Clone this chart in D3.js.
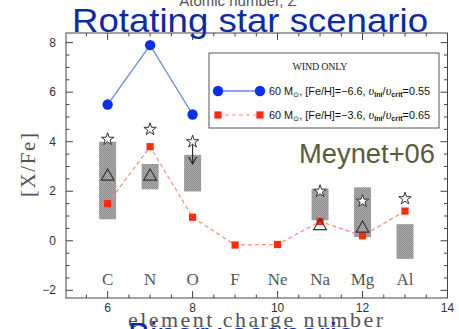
<!DOCTYPE html>
<html><head><meta charset="utf-8">
<script src="https://cdn.jsdelivr.net/npm/d3@7"></script>
<style>html,body{margin:0;padding:0;background:#fff;overflow:hidden}</style>
</head><body>
<svg id="c" width="459" height="329"></svg>
<script>
const elements = ["C","N","O","F","Ne","Na","Mg","Al"];
const charges = [6,7,8,9,10,11,12,13];
const blueZ = [6,7,8];
const blueVals = [5.5,7.9,5.1];
const redVals = [1.5,3.8,0.95,-0.17,-0.15,0.78,0.2,1.2];
const obsZ = [6,7,8,11,12,13];
const obsLow = [0.87,2.08,1.99,0.83,0.15,-0.73];
const obsHigh = [4.0,3.1,3.47,2.1,2.16,0.67];
const triZ = [6,7,11,12];
const triVals = [2.6,2.6,0.6,0.5];
const starZ = [6,7,8,11,12,13];
const starVals = [4.1,4.5,4.0,2.0,1.6,1.7];
const limitZ = [8];
const limitFrom = [4.0];
const limitTo = [3.1];
const xTicks = [6,8,10,12,14];
const yTicks = [-2,0,2,4,6,8];

const svg = d3.select("#c");
const L=66,R=447.5,T=33,B=298;
const x = d3.scaleLinear().domain([5.02,14]).range([L,R]);
const y = d3.scaleLinear().domain([-2.31,8.39]).range([B,T]);
const axisCol="#444";

// pattern for gray boxes
const defs = svg.append("defs");
const pat = defs.append("pattern").attr("id","hatch").attr("width",2).attr("height",2).attr("patternUnits","userSpaceOnUse");
pat.append("rect").attr("width",2).attr("height",2).attr("fill","#ababab");
pat.append("rect").attr("width",1).attr("height",1).attr("fill","#8e8e8e");
pat.append("rect").attr("x",1).attr("y",1).attr("width",1).attr("height",1).attr("fill","#8e8e8e");

// titles
svg.append("text").attr("x",238).attr("y",6).attr("text-anchor","middle")
  .attr("font-family","Liberation Sans, Arial, sans-serif").attr("font-size",15).attr("fill","#555").text("Atomic number, Z");

// frame
svg.append("rect").attr("x",L).attr("y",T).attr("width",R-L).attr("height",B-T).attr("fill","none").attr("stroke",axisCol).attr("stroke-width",1);

// ticks
const minorX = d3.range(5.5,14.01,0.5);
const minorY = d3.range(-2,8.01,0.5);
const g = svg.append("g").attr("stroke",axisCol).attr("stroke-width",1);
minorX.forEach(v=>{
  const major = xTicks.includes(v);
  const len = major?7:3.5;
  g.append("line").attr("x1",x(v)).attr("x2",x(v)).attr("y1",B).attr("y2",B-len);
  g.append("line").attr("x1",x(v)).attr("x2",x(v)).attr("y1",T).attr("y2",T+len);
});
minorY.forEach(v=>{
  const major = yTicks.includes(v);
  const len = major?7:3.5;
  g.append("line").attr("y1",y(v)).attr("y2",y(v)).attr("x1",L).attr("x2",L+len);
  g.append("line").attr("y1",y(v)).attr("y2",y(v)).attr("x1",R).attr("x2",R-len);
});

// tick labels
svg.append("g").selectAll("text").data(xTicks).join("text")
  .attr("x",d=>x(d)).attr("y",312).attr("text-anchor","middle")
  .attr("font-family","Liberation Sans, Arial, sans-serif").attr("font-size",12).attr("fill","#333").text(d=>d);
svg.append("g").selectAll("text").data(yTicks).join("text")
  .attr("x",56).attr("y",d=>y(d)+4).attr("text-anchor","end")
  .attr("font-family","Liberation Sans, Arial, sans-serif").attr("font-size",12).attr("fill","#333").text(d=>d<0?"\u2212"+Math.abs(d):d);

// axis labels
svg.append("text").attr("transform","translate(35,165) rotate(-90)").attr("text-anchor","middle")
  .attr("font-family","Liberation Serif, Times New Roman, serif").attr("font-size",21).attr("fill","#555")
  .attr("textLength",64).attr("lengthAdjust","spacing").text("[X/Fe]");
svg.append("text").attr("x",128).attr("y",327).attr("text-anchor","start")
  .attr("font-family","Liberation Serif, Times New Roman, serif").attr("font-size",22).attr("fill","#555")
  .attr("textLength",255).attr("lengthAdjust","spacing").text("element charge number");

// element labels
svg.append("g").selectAll("text").data(elements).join("text")
  .attr("x",(d,i)=>x(charges[i])).attr("y",285).attr("text-anchor","middle")
  .attr("font-family","Liberation Serif, Times New Roman, serif").attr("font-size",17).attr("fill","#555").text(d=>d);

// observation boxes
svg.append("g").selectAll("rect").data(obsZ).join("rect")
  .attr("x",d=>x(d-0.2)).attr("width",x(0.2)-x(-0.2))
  .attr("y",(d,i)=>y(obsHigh[i])).attr("height",(d,i)=>y(obsLow[i])-y(obsHigh[i]))
  .attr("fill","url(#hatch)");

// blue line
const blueLine = d3.line().x((d,i)=>x(blueZ[i])).y(d=>y(d));
svg.append("path").datum(blueVals).attr("d",blueLine).attr("fill","none").attr("stroke","#6a84f0").attr("stroke-width",1.3);
svg.append("g").selectAll("circle").data(blueVals).join("circle")
  .attr("cx",(d,i)=>x(blueZ[i])).attr("cy",d=>y(d)).attr("r",5.2).attr("fill","#0a2ff0");

// red line
const redLine = d3.line().x((d,i)=>x(charges[i])).y(d=>y(d));
svg.append("path").datum(redVals).attr("d",redLine).attr("fill","none").attr("stroke","#ff8a78").attr("stroke-width",1.2).attr("stroke-dasharray","4,3");
svg.append("g").selectAll("rect").data(redVals).join("rect")
  .attr("x",(d,i)=>x(charges[i])-3.6).attr("y",d=>y(d)-3.6).attr("width",7.2).attr("height",7.2).attr("fill","#ff2a12");

// triangles
svg.append("g").selectAll("path").data(triVals).join("path")
  .attr("transform",(d,i)=>`translate(${x(triZ[i])},${y(d)})`)
  .attr("d",d3.symbol().type(d3.symbolTriangle).size(72)).attr("fill","none").attr("stroke","#333").attr("stroke-width",1.1);

// upper limit arrow
limitZ.forEach((z,i)=>{
  const xx=x(z), y1=y(limitFrom[i]), y2=y(limitTo[i]);
  svg.append("line").attr("x1",xx).attr("x2",xx).attr("y1",y1).attr("y2",y2).attr("stroke","#222").attr("stroke-width",1.1);
  svg.append("path").attr("d",`M${xx-4},${y2-7}L${xx},${y2}L${xx+4},${y2-7}`).attr("fill","none").attr("stroke","#222").attr("stroke-width",1.1);
});

// stars
svg.append("g").selectAll("path").data(starVals).join("path")
  .attr("transform",(d,i)=>`translate(${x(starZ[i])},${y(d)})`)
  .attr("d",d3.symbol().type(d3.symbolStar).size(48)).attr("fill","#fff").attr("stroke","#333").attr("stroke-width",1);

// legend
const lg = svg.append("g");
lg.append("rect").attr("x",209).attr("y",53).attr("width",230).attr("height",75).attr("fill","#fff").attr("stroke","#555").attr("stroke-width",1);
lg.append("text").attr("x",320).attr("y",70).attr("text-anchor","middle").attr("font-family","Liberation Serif, Times New Roman, serif")
  .attr("font-size",10).attr("fill","#222").attr("textLength",55).attr("lengthAdjust","spacing").text("WIND ONLY");
lg.append("line").attr("x1",218).attr("x2",260).attr("y1",91).attr("y2",91).attr("stroke","#6a84f0").attr("stroke-width",1.3);
[218,260].forEach(cx=>lg.append("circle").attr("cx",cx).attr("cy",91).attr("r",5.2).attr("fill","#0a2ff0"));
lg.append("line").attr("x1",218).attr("x2",260).attr("y1",115).attr("y2",115).attr("stroke","#ff8a78").attr("stroke-width",1.2).attr("stroke-dasharray","4,3");
[218,260].forEach(cx=>lg.append("rect").attr("x",cx-3.6).attr("y",115-3.6).attr("width",7.2).attr("height",7.2).attr("fill","#ff2a12"));
function legText(yy, feh, ratio){
  const t = lg.append("text").attr("x",269).attr("y",yy+3.5).attr("font-family","Liberation Sans, Arial, sans-serif").attr("font-size",10.5).attr("fill","#111")
    .attr("textLength",161).attr("lengthAdjust","spacingAndGlyphs");
  t.append("tspan").text("60 M");
  t.append("tspan").attr("font-size",7).attr("dy",2).text("\u2299");
  t.append("tspan").attr("dy",-2).text(", [Fe/H]=\u2212"+feh+", ");
  t.append("tspan").attr("font-style","italic").attr("font-family","Liberation Serif, serif").attr("font-size",12).text("\u03c5");
  t.append("tspan").attr("font-size",7).attr("dy",2).attr("font-weight","bold").text("ini");
  t.append("tspan").attr("dy",-2).text("/");
  t.append("tspan").attr("font-style","italic").attr("font-family","Liberation Serif, serif").attr("font-size",12).text("\u03c5");
  t.append("tspan").attr("font-size",7).attr("dy",2).attr("font-weight","bold").text("crit");
  t.append("tspan").attr("dy",-2).text("="+ratio);
}
legText(91,"6.6","0.55");
legText(115,"3.6","0.65");

// annotations
svg.append("text").attr("x",250).attr("y",32).attr("text-anchor","middle")
  .attr("font-family","Liberation Sans, Arial, sans-serif").attr("font-size",33).attr("fill","#0d2aa6")
  .attr("textLength",356).attr("lengthAdjust","spacingAndGlyphs").text("Rotating star scenario");
svg.append("text").attr("x",299).attr("y",163)
  .attr("font-family","Liberation Sans, Arial, sans-serif").attr("font-size",27).attr("fill","#5b5a3e")
  .attr("textLength",136).attr("lengthAdjust","spacingAndGlyphs").text("Meynet+06");
svg.append("text").attr("x",128).attr("y",346)
  .attr("font-family","Liberation Sans, Arial, sans-serif").attr("font-size",33).attr("fill","#0d2aa6")
  .text("Binary scenario");
</script>
</body></html>
